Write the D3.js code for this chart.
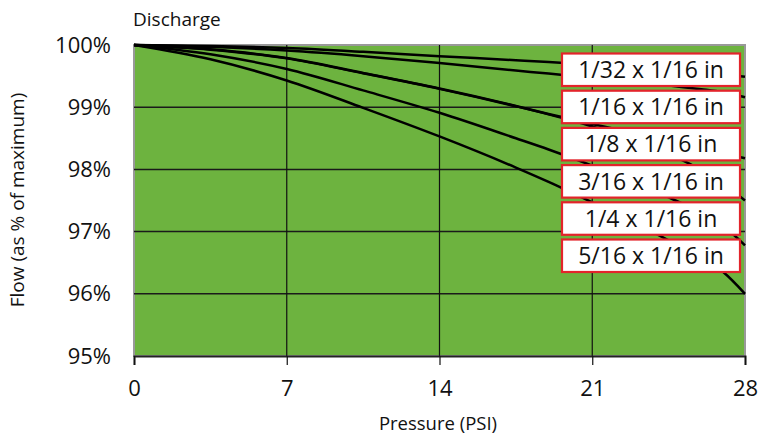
<!DOCTYPE html>
<html>
<head>
<meta charset="utf-8">
<script src="https://cdn.jsdelivr.net/npm/d3@7"></script>
<style>
  body { margin: 0; background: #fff; }
  svg text { font-family: "Open Sans", "Noto Sans", sans-serif; fill: #111; }
</style>
</head>
<body>
<div id="chart"></div>
<script>
// values
var pressures = [0, 3.5, 7, 10.5, 14, 17.5, 19, 21, 24.5, 26, 27, 28];
var sizes = ["1/32 x 1/16 in", "1/16 x 1/16 in", "1/8 x 1/16 in", "3/16 x 1/16 in", "1/4 x 1/16 in", "5/16 x 1/16 in"];
var flow1 = [100, 99.985, 99.95, 99.89, 99.82, 99.755, 99.725, 99.68, 99.61, 99.57, 99.535, 99.49];
var flow2 = [100, 99.97, 99.91, 99.82, 99.71, 99.59, 99.54, 99.47, 99.35, 99.29, 99.24, 99.16];
var flow3 = [100, 99.93, 99.79, 99.55, 99.30, 99.02, 98.89, 98.73, 98.46, 98.34, 98.26, 98.18];
var flow4 = [100, 99.925, 99.785, 99.545, 99.295, 99.015, 98.885, 98.69, 98.25, 97.99, 97.77, 97.50];
var flow5 = [100, 99.85, 99.615, 99.27, 98.91, 98.50, 98.32, 98.06, 97.55, 97.30, 97.09, 96.78];
var flow6 = [100, 99.77, 99.43, 98.99, 98.53, 98.03, 97.80, 97.47, 96.86, 96.58, 96.35, 96.00];
var xTicks = [0, 7, 14, 21, 28];
var yTicks = [95, 96, 97, 98, 99, 100];

var series = [flow1, flow2, flow3, flow4, flow5, flow6];

var svgWidth = 763, svgHeight = 438;
var plotLeft = 134, plotRight = 745, plotTop = 45, plotBottom = 356;

var svg = d3.select("#chart").append("svg")
    .attr("width", svgWidth)
    .attr("height", svgHeight);

var x = d3.scaleLinear().domain([0, 28]).range([plotLeft, plotRight]);
var y = d3.scaleLinear().domain([95, 100]).range([plotBottom, plotTop]);

// plot background
svg.append("rect")
    .attr("x", plotLeft).attr("y", plotTop)
    .attr("width", plotRight - plotLeft).attr("height", plotBottom - plotTop)
    .attr("fill", "#6db33f")
    .attr("stroke", "#999")
    .attr("stroke-width", 2);

// grid
svg.append("g").selectAll("line")
    .data(yTicks.filter(function(d){ return d > 95 && d < 100; }))
    .enter().append("line")
    .attr("x1", plotLeft).attr("x2", plotRight)
    .attr("y1", function(d){ return y(d); })
    .attr("y2", function(d){ return y(d); })
    .attr("stroke", "#1a1a1a")
    .attr("stroke-width", 1.5);

svg.append("g").selectAll("line")
    .data(xTicks.filter(function(d){ return d > 0 && d < 28; }))
    .enter().append("line")
    .attr("x1", function(d){ return x(d); })
    .attr("x2", function(d){ return x(d); })
    .attr("y1", plotTop).attr("y2", plotBottom)
    .attr("stroke", "#111")
    .attr("stroke-width", 1.2);

// curves
var line = d3.line()
    .x(function(d, i){ return x(pressures[i]); })
    .y(function(d){ return y(d); })
    .curve(d3.curveMonotoneX);

svg.append("g").selectAll("path")
    .data(series)
    .enter().append("path")
    .attr("d", line)
    .attr("fill", "none")
    .attr("stroke", "#000")
    .attr("stroke-width", 2.5);

// x axis
var xAxis = svg.append("g")
    .attr("transform", "translate(0," + plotBottom + ")")
    .call(d3.axisBottom(x).tickValues(xTicks).tickSize(9).tickPadding(15).tickFormat(d3.format("d")));
xAxis.select(".domain").attr("stroke", "#222").attr("stroke-width", 2);
xAxis.selectAll(".tick line").attr("stroke", "#111").attr("stroke-width", 1.2);
xAxis.selectAll("text").attr("font-size", 22).attr("fill", "#111");

// y axis
var yAxis = svg.append("g")
    .attr("transform", "translate(" + plotLeft + ",0)")
    .call(d3.axisLeft(y).tickValues(yTicks).tickSize(0).tickPadding(23).tickFormat(function(d){ return d + "%"; }));
yAxis.select(".domain").remove();
yAxis.selectAll("text").attr("font-size", 22).attr("fill", "#111");

// titles
svg.append("text")
    .attr("x", 133).attr("y", 26)
    .attr("font-size", 19)
    .text("Discharge");

svg.append("text")
    .attr("x", 438).attr("y", 430)
    .attr("text-anchor", "middle")
    .attr("font-size", 18.5)
    .text("Pressure (PSI)");

svg.append("text")
    .attr("transform", "translate(24,200) rotate(-90)")
    .attr("text-anchor", "middle")
    .attr("font-size", 19)
    .text("Flow (as % of maximum)");

// legend
var legendX = 562, legendY = 53.5, boxW = 178, boxH = 32.5, pitch = 37.2;
var legend = svg.append("g").selectAll("g")
    .data(sizes)
    .enter().append("g")
    .attr("transform", function(d, i){ return "translate(" + legendX + "," + (legendY + i * pitch) + ")"; });

legend.append("rect")
    .attr("width", boxW).attr("height", boxH)
    .attr("fill", "#fff")
    .attr("stroke", "#e3242b")
    .attr("stroke-width", 2.2);

legend.append("text")
    .attr("x", boxW / 2).attr("y", boxH / 2)
    .attr("dy", "0.36em")
    .attr("text-anchor", "middle")
    .attr("font-size", 23)
    .text(function(d){ return d; });
</script>
</body>
</html>
